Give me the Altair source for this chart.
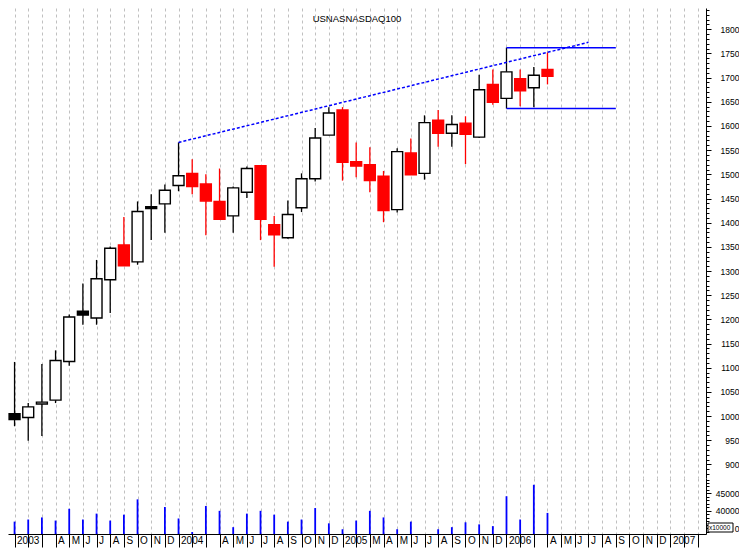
import json
import altair as alt
import pandas as pd

TITLE = "USNASNASDAQ100"

# month index 0 = Jan 2003
opens = [1005, 997, 1025, 1033, 1113, 1217, 1203, 1282, 1354, 1319, 1433, 1439,
         1477, 1502, 1480, 1444, 1414, 1463, 1518, 1396, 1369, 1431, 1491, 1581,
         1633, 1526, 1520, 1496, 1427, 1544, 1502, 1612, 1585, 1606, 1577, 1686,
         1657, 1698, 1679, 1717]
highs = [1112, 1027, 1108, 1136, 1210, 1274, 1323, 1351, 1412, 1444, 1459, 1479,
         1566, 1531, 1500, 1512, 1475, 1516, 1518, 1414, 1446, 1502, 1596, 1639,
         1639, 1566, 1556, 1507, 1554, 1574, 1622, 1633, 1622, 1620, 1706, 1717,
         1762, 1717, 1722, 1752]
lows = [979, 949, 959, 1027, 1104, 1189, 1189, 1213, 1311, 1313, 1364, 1379,
        1465, 1459, 1374, 1407, 1379, 1451, 1364, 1309, 1367, 1422, 1485, 1581,
        1487, 1494, 1463, 1401, 1421, 1499, 1489, 1557, 1557, 1521, 1575, 1644,
        1636, 1641, 1639, 1686]
closes = [993, 1019, 1029, 1115, 1205, 1209, 1284, 1347, 1311, 1423, 1429, 1467,
          1497, 1475, 1445, 1407, 1472, 1512, 1407, 1375, 1417, 1491, 1575, 1627,
          1525, 1517, 1487, 1425, 1547, 1499, 1607, 1585, 1603, 1583, 1675, 1649,
          1712, 1673, 1705, 1703]
volumes = [36900, 37500, 38100, 37200, 40600, 37500, 39200, 37200, 38900, 43300, None, 41100,
           37800, 33900, 41400, 40000, 35300, 39200, 40000, 38900, 36900, 37500, 40800, 36400,
           34700, 37200, 40000, 38100, 34700, 36900, None, 34700, 35300, 36700, 36100, 35600,
           44200, 37500, 47500, 39400]

month_labels = (["2003", "", "", "A", "M", "J", "J", "A", "S", "O", "N", "D"] +
                ["2004", "", "", "A", "M", "J", "J", "A", "S", "O", "N", "D"] +
                ["2005", "", "M", "A", "M", "J", "J", "A", "S", "O", "N", "D"] +
                ["2006", "", "", "A", "M", "J", "J", "A", "S", "O", "N", "D"] +
                ["2007", "", ""])

trend_i = [12, 42]
trend_v = [1566, 1773]
box_i = [36, 44]
box_levels = [1762, 1636]

price_ticks = list(range(900, 1801, 50))
price_minor = list(range(880, 1841, 10))
vol_ticks = [35000, 40000, 45000]
vol_tick_labels = ["0", "40000", "45000"]
vol_minor = list(range(34000, 49001, 1000))
unit_label = ["x10000"]

X_DOMAIN = [-0.48, 50.6]
P_DOMAIN = [872, 1844]
V_DOMAIN = [33333, 49444]

W, HP, HV = 698, 470, 56
FONT = "Liberation Sans"

# ---- tables ----
kinds = []
for k in range(len(opens)):
    if closes[k] >= opens[k]:
        kinds.append("up")
    elif k > 0 and closes[k] < closes[k - 1]:
        kinds.append("down")
    else:
        kinds.append("flat")
candles = pd.DataFrame({
    "i": list(range(len(opens))), "open": opens, "high": highs,
    "low": lows, "close": closes, "kind": kinds,
})
candles["x0"] = candles["i"] - 0.4
candles["x1"] = candles["i"] + 0.4

vol = pd.DataFrame({"i": list(range(len(volumes))), "vol": volumes}).dropna()
trend = pd.DataFrame({"i": trend_i, "v": trend_v})
box = pd.DataFrame({"x0": [box_i[0]] * 2, "x1": [box_i[1]] * 2, "lvl": box_levels})

x_scale = alt.Scale(domain=X_DOMAIN, nice=False, zero=False)
yp_scale = alt.Scale(domain=P_DOMAIN, nice=False, zero=False)
yv_scale = alt.Scale(domain=V_DOMAIN, nice=False, zero=False)

grid_axis = alt.Axis(values=list(range(51)), grid=True, gridDash=[3, 3],
                     gridColor="#c0c0c0", gridWidth=1, labels=False, ticks=False,
                     domain=False, title=None)

major_p = alt.Axis(orient="right", values=price_ticks, format="d", tickSize=5,
                   tickColor="black", domainColor="black", labelAlign="right",
                   labelPadding=28, labelFontSize=8.5, labelFont=FONT, labelColor="black",
                   grid=False, title=None, labelOverlap=False)
minor_p = alt.Axis(orient="right", values=price_minor, tickSize=3, tickColor="black",
                   labels=False, domain=False, grid=False, title=None)

kind_dom = ["up", "down", "flat"]
wick_col = alt.Color("kind:N", scale=alt.Scale(domain=kind_dom, range=["black", "#ff0000", "black"]), legend=None)
body_fill = alt.Fill("kind:N", scale=alt.Scale(domain=kind_dom, range=["white", "#ff0000", "black"]), legend=None)
body_stroke = alt.Stroke("kind:N", scale=alt.Scale(domain=kind_dom, range=["black", "#ff0000", "black"]), legend=None)

wicks = alt.Chart(candles).mark_rule(strokeWidth=1.3).encode(
    x=alt.X("i:Q", scale=x_scale, axis=grid_axis),
    y=alt.Y("low:Q", scale=yp_scale, axis=major_p),
    y2="high:Q",
    color=wick_col,
)
bodies = alt.Chart(candles).mark_rect(strokeWidth=1.4).encode(
    x=alt.X("x0:Q", scale=x_scale, axis=grid_axis),
    x2="x1:Q",
    y=alt.Y("open:Q", scale=yp_scale, axis=None),
    y2="close:Q",
    fill=body_fill,
    stroke=body_stroke,
)
trend_line = alt.Chart(trend).mark_line(color="#0000ff", strokeDash=[3, 2], strokeWidth=1.5).encode(
    x=alt.X("i:Q", scale=x_scale, axis=grid_axis),
    y=alt.Y("v:Q", scale=yp_scale, axis=minor_p),
)
box_lines = alt.Chart(box).mark_rule(color="#0000ff", strokeWidth=1.5).encode(
    x=alt.X("x0:Q", scale=x_scale, axis=grid_axis),
    x2="x1:Q",
    y=alt.Y("lvl:Q", scale=yp_scale, axis=None),
)

price = alt.layer(wicks, bodies, trend_line, box_lines).resolve_axis(y="independent").properties(
    width=W, height=HP,
    title=alt.TitleParams(text=TITLE, fontSize=9.5, font=FONT, fontWeight="normal",
                          color="black", anchor="middle", frame="group", offset=-15),
)

bottom_axis = alt.Axis(values=list(range(51)),
                       labelExpr=json.dumps(month_labels) + "[datum.value]",
                       grid=True, gridDash=[3, 3], gridColor="#c0c0c0", gridWidth=1,
                       tickSize=13, tickColor="black", domainColor="black",
                       labelAlign="left", labelBaseline="top", labelPadding=-12,
                       labelOffset=2, labelFontSize=10, labelFont=FONT, labelColor="black",
                       labelOverlap=False, labelFlush=False, labelBound=False, title=None)
vol_label_expr = ("indexof(" + json.dumps(vol_ticks) + ", datum.value) >= 0 ? "
                  + json.dumps(vol_tick_labels) + "[indexof(" + json.dumps(vol_ticks)
                  + ", datum.value)] : ''")
major_v = alt.Axis(orient="right", values=vol_ticks, labelExpr=vol_label_expr, tickSize=5,
                   tickColor="black", domainColor="black", labelAlign="right",
                   labelPadding=28, labelFontSize=8.5, labelFont=FONT, labelColor="black",
                   grid=False, title=None, labelOverlap=False)
minor_v = alt.Axis(orient="right", values=vol_minor, tickSize=3, tickColor="black",
                   labels=False, domain=False, grid=False, title=None)

vol_bars = alt.Chart(vol).mark_rule(color="#0000ff", strokeWidth=1.8).encode(
    x=alt.X("i:Q", scale=x_scale, axis=bottom_axis),
    y=alt.Y("vol:Q", scale=yv_scale, axis=major_v),
    y2=alt.datum(V_DOMAIN[0]),
)
vol_minor_layer = alt.Chart(vol).mark_rule(opacity=0).encode(
    x=alt.X("i:Q", scale=x_scale, axis=bottom_axis),
    y=alt.Y("vol:Q", scale=yv_scale, axis=minor_v),
)
unit_df = pd.DataFrame({"t": unit_label})
unit_box = alt.Chart(unit_df).mark_rect(
    fill="white", stroke="black", strokeWidth=1).encode(
    x=alt.value(W + 2), x2=alt.value(W + 27), y=alt.value(HV - 11), y2=alt.value(HV - 2))
unit_text = alt.Chart(unit_df).mark_text(
    fontSize=6.5, font=FONT, align="left", baseline="middle", color="black").encode(
    x=alt.value(W + 3), y=alt.value(HV - 6.5), text="t:N")

volume = alt.layer(vol_bars, vol_minor_layer, unit_box, unit_text).resolve_axis(y="independent").properties(
    width=W, height=HV)

chart = alt.vconcat(price, volume, spacing=0, bounds="flush").properties(
    padding=0, background="white"
).configure_view(stroke=None)

chart.save("out.html", embed_options={"renderer": "svg", "actions": False})
